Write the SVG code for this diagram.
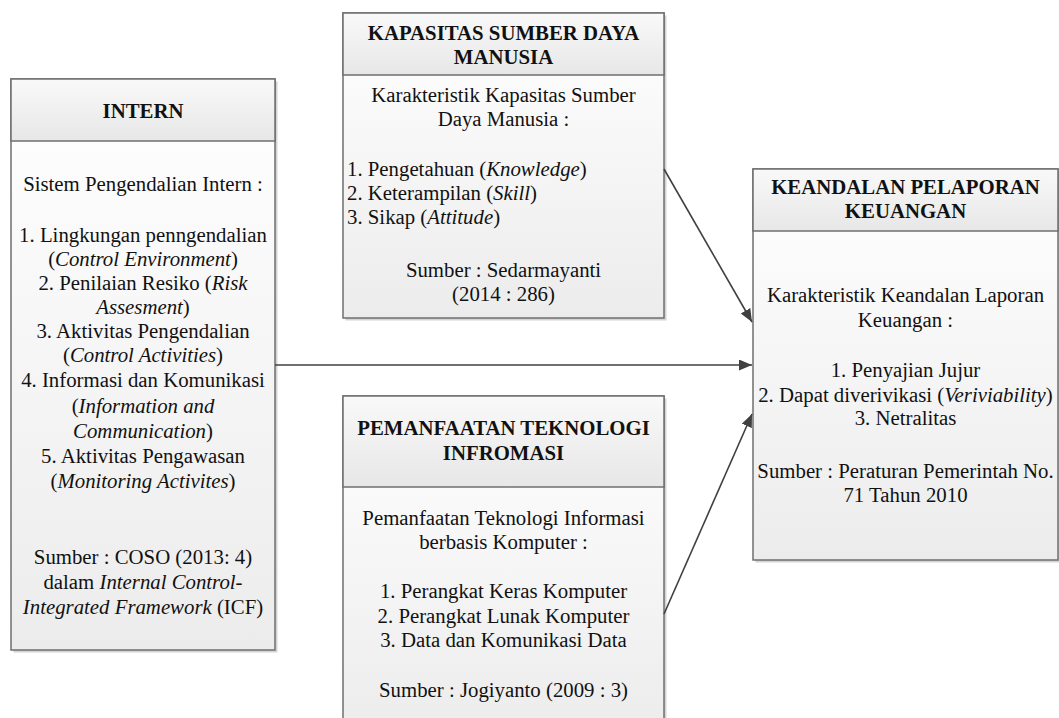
<svg xmlns="http://www.w3.org/2000/svg" width="1059" height="718" viewBox="0 0 1059 718">
<style>
.t{font-family:"Liberation Serif","Times New Roman",serif;font-size:20.8px;fill:#111;text-anchor:middle}
.l{text-anchor:start}
.b{font-weight:bold}
.box{stroke:#6f6f6f;stroke-width:1.5}
.sh{fill:#d4d4d4}
.c{stroke:#404040;stroke-width:1.6;fill:none;marker-end:url(#ah)}
</style>
<defs>
<linearGradient id="gb" x1="0" y1="0" x2="0" y2="1"><stop offset="0" stop-color="#ffffff"/><stop offset="1" stop-color="#ececec"/></linearGradient>
<linearGradient id="gh" x1="0" y1="0" x2="0" y2="1"><stop offset="0" stop-color="#f9f9f9"/><stop offset="1" stop-color="#e7e7e7"/></linearGradient>
<marker id="ah" markerUnits="userSpaceOnUse" markerWidth="14" markerHeight="12" refX="13" refY="5.5" orient="auto"><path d="M0,0 L13,5.5 L0,11 Z" fill="#404040"/></marker>
</defs>
<rect width="1059" height="718" fill="#fff"/>

<g id="intern">
<rect class="sh" x="13.5" y="81.5" width="264" height="571"/>
<rect class="box" x="11" y="79" width="264" height="571" fill="url(#gb)"/>
<rect class="box" x="11" y="79" width="264" height="62" fill="url(#gh)"/>
<text class="t b" x="143" y="118">INTERN</text>
<text class="t" x="143" y="191">Sistem Pengendalian Intern :</text>
<text class="t" x="143" y="242">1. Lingkungan penngendalian</text>
<text class="t" x="143" y="266">(<tspan font-style="italic">Control Environment</tspan>)</text>
<text class="t" x="143" y="290">2. Penilaian Resiko (<tspan font-style="italic">Risk</tspan></text>
<text class="t" x="143" y="314"><tspan font-style="italic">Assesment</tspan>)</text>
<text class="t" x="143" y="338">3. Aktivitas Pengendalian</text>
<text class="t" x="143" y="362">(<tspan font-style="italic">Control Activities</tspan>)</text>
<text class="t" x="143" y="387">4. Informasi dan Komunikasi</text>
<text class="t" x="143" y="413">(<tspan font-style="italic">Information and</tspan></text>
<text class="t" x="143" y="438"><tspan font-style="italic">Communication</tspan>)</text>
<text class="t" x="143" y="463">5. Aktivitas Pengawasan</text>
<text class="t" x="143" y="488">(<tspan font-style="italic">Monitoring Activites</tspan>)</text>
<text class="t" x="143" y="564">Sumber : COSO (2013: 4)</text>
<text class="t" x="143" y="589">dalam <tspan font-style="italic">Internal Control-</tspan></text>
<text class="t" x="143" y="614"><tspan font-style="italic">Integrated Framework</tspan> (ICF)</text>
</g>

<g id="kapasitas">
<rect class="sh" x="345.5" y="15.5" width="321" height="305"/>
<rect class="box" x="343" y="13" width="321" height="305" fill="url(#gb)"/>
<rect class="box" x="343" y="13" width="321" height="62" fill="url(#gh)"/>
<text class="t b" x="503.5" y="40">KAPASITAS SUMBER DAYA</text>
<text class="t b" x="503.5" y="64">MANUSIA</text>
<text class="t" x="503.5" y="102">Karakteristik Kapasitas Sumber</text>
<text class="t" x="503.5" y="126">Daya Manusia :</text>
<text class="t l" x="347" y="176">1. Pengetahuan (<tspan font-style="italic">Knowledge</tspan>)</text>
<text class="t l" x="347" y="200">2. Keterampilan (<tspan font-style="italic">Skill</tspan>)</text>
<text class="t l" x="347" y="224">3. Sikap (<tspan font-style="italic">Attitude</tspan>)</text>
<text class="t" x="503.5" y="277">Sumber : Sedarmayanti</text>
<text class="t" x="503.5" y="301">(2014 : 286)</text>
</g>

<g id="teknologi">
<rect class="sh" x="345.5" y="398.5" width="321" height="340"/>
<rect class="box" x="343" y="396" width="321" height="340" fill="url(#gb)"/>
<rect class="box" x="343" y="396" width="321" height="91" fill="url(#gh)"/>
<text class="t b" x="503.5" y="435">PEMANFAATAN TEKNOLOGI</text>
<text class="t b" x="503.5" y="460">INFROMASI</text>
<text class="t" x="503.5" y="525">Pemanfaatan Teknologi Informasi</text>
<text class="t" x="503.5" y="549">berbasis Komputer :</text>
<text class="t" x="503.5" y="598">1. Perangkat Keras Komputer</text>
<text class="t" x="503.5" y="623">2. Perangkat Lunak Komputer</text>
<text class="t" x="503.5" y="647">3. Data dan Komunikasi Data</text>
<text class="t" x="503.5" y="697">Sumber : Jogiyanto (2009 : 3)</text>
</g>

<g id="keandalan">
<rect class="sh" x="755.5" y="171.5" width="305" height="391"/>
<rect class="box" x="753" y="169" width="305" height="391" fill="url(#gb)"/>
<rect class="box" x="753" y="169" width="305" height="62" fill="url(#gh)"/>
<text class="t b" x="905.5" y="194">KEANDALAN PELAPORAN</text>
<text class="t b" x="905.5" y="218">KEUANGAN</text>
<text class="t" x="905.5" y="302">Karakteristik Keandalan Laporan</text>
<text class="t" x="905.5" y="327">Keuangan :</text>
<text class="t" x="905.5" y="377">1. Penyajian Jujur</text>
<text class="t" x="905.5" y="402">2. Dapat diverivikasi (<tspan font-style="italic">Veriviability</tspan>)</text>
<text class="t" x="905.5" y="425">3. Netralitas</text>
<text class="t" x="905.5" y="478">Sumber : Peraturan Pemerintah No.</text>
<text class="t" x="905.5" y="502">71 Tahun 2010</text>
</g>

<g id="connectors">
<line class="c" x1="664" y1="169" x2="752" y2="322"/>
<line class="c" x1="275" y1="365" x2="752" y2="365"/>
<line class="c" x1="664" y1="614" x2="752" y2="414"/>
</g>
</svg>
